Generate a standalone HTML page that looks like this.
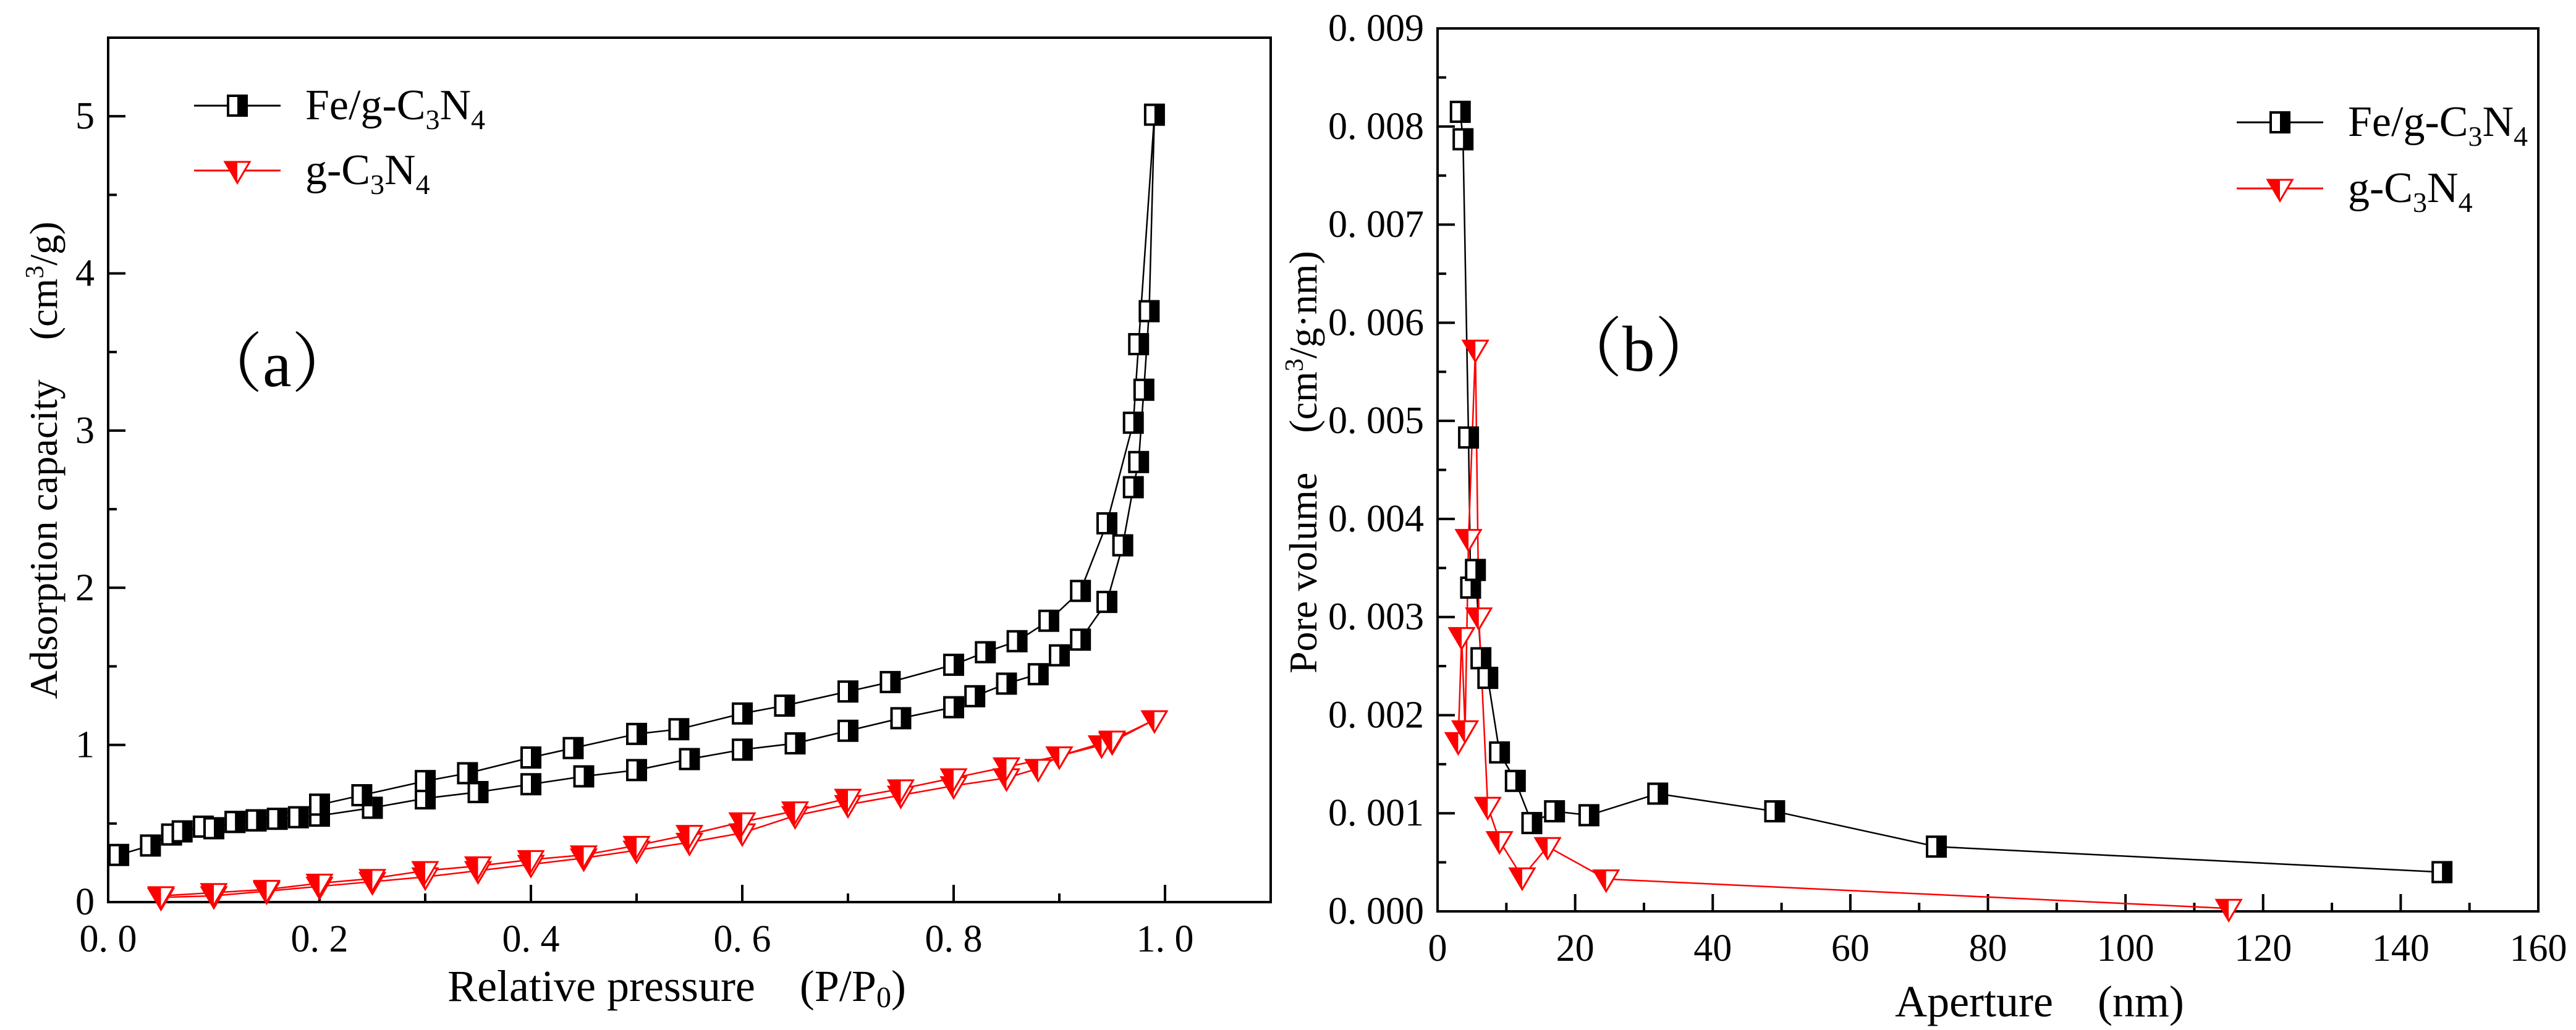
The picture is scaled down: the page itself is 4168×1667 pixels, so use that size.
<!DOCTYPE html>
<html><head><meta charset="utf-8"><style>
html,body{margin:0;padding:0;background:#fff}
svg{display:block}
text{font-family:"Liberation Serif","Noto Serif CJK SC",serif;fill:#000}
</style></head><body>
<svg id="chart" width="4168" height="1667" viewBox="0 0 4168 1667" xmlns="http://www.w3.org/2000/svg"></svg>
<script>
// Panel (a) data
const aFeX=[0.01,0.04,0.06,0.07,0.09,0.10,0.12,0.14,0.16,0.18,0.2,0.25,0.3,0.35,0.4,0.45,0.5,0.55,0.6,0.65,0.7,0.75,0.8,0.82,0.85,0.88,0.9,0.92,0.945,0.96,0.97,0.975,0.98,0.985,0.99,0.975,0.97,0.945,0.92,0.89,0.86,0.83,0.8,0.74,0.7,0.64,0.6,0.54,0.5,0.44,0.4,0.34,0.3,0.24,0.2,0.14,0.12];
const aFeY=[0.30,0.36,0.43,0.45,0.48,0.47,0.51,0.52,0.53,0.54,0.55,0.60,0.66,0.70,0.75,0.80,0.84,0.91,0.97,1.01,1.09,1.17,1.24,1.31,1.39,1.45,1.57,1.67,1.91,2.27,2.64,2.80,3.26,3.76,5.01,3.55,3.05,2.41,1.98,1.79,1.66,1.59,1.51,1.40,1.34,1.25,1.20,1.10,1.07,0.98,0.92,0.82,0.77,0.68,0.62,0.52,0.51];
const aGX=[0.05,0.1,0.15,0.2,0.25,0.3,0.35,0.4,0.45,0.5,0.55,0.6,0.65,0.7,0.75,0.8,0.85,0.88,0.9,0.94,0.95,0.99,0.95,0.90,0.85,0.8,0.75,0.7,0.65,0.6,0.55,0.5,0.45,0.4,0.35,0.3,0.25,0.2,0.15,0.1,0.05];
const aGY=[0.03,0.04,0.07,0.10,0.13,0.16,0.20,0.24,0.28,0.33,0.38,0.44,0.55,0.62,0.68,0.74,0.79,0.85,0.93,1.0,1.02,1.16,1.03,0.93,0.86,0.79,0.72,0.66,0.58,0.51,0.43,0.36,0.30,0.27,0.23,0.20,0.15,0.12,0.08,0.06,0.04];
const aXTicks=["0. 0","0. 2","0. 4","0. 6","0. 8","1. 0"];
const aYTicks=["0","1","2","3","4","5"];
// Panel (b) data
const bFeX=[3.3,3.7,4.5,4.8,5.5,6.3,7.3,9,11.3,13.7,17,22,32,49,72.5,146];
const bFeY=[0.00815,0.00787,0.00483,0.0033,0.00348,0.00258,0.00238,0.00162,0.00133,0.0009,0.00102,0.00098,0.0012,0.00102,0.00066,0.0004];
const bGX=[3,3.5,4,4.5,5.5,6,7.3,9,12.3,16,24.5,115];
const bGY=[0.00173,0.0028,0.00185,0.0038,0.00573,0.003,0.00107,0.00072,0.00035,0.00066,0.00033,0.00003];
const bXTicks=["0","20","40","60","80","100","120","140","160"];
const bYTicks=["0. 000","0. 001","0. 002","0. 003","0. 004","0. 005","0. 006","0. 007","0. 008","0. 009"];

const svg=document.getElementById('chart');
const NS='http://www.w3.org/2000/svg';
function el(tag,attrs,parent,txt){const e=document.createElementNS(NS,tag);for(const k in attrs)e.setAttribute(k,attrs[k]);if(txt!==undefined)e.textContent=txt;(parent||svg).appendChild(e);return e;}

function sq(g,x,y){
  el('rect',{x:x-15,y:y-16,width:30,height:32,fill:'#fff',stroke:'#000','stroke-width':4},g);
  el('rect',{x:x,y:y-16,width:15,height:32,fill:'#000'},g);
}
function tri(g,x,y){
  el('polygon',{points:`${x-20},${y-14} ${x+20},${y-14} ${x},${y+20}`,fill:'#fff',stroke:'#f00','stroke-width':3},g);
  el('polygon',{points:`${x-20},${y-14} ${x},${y-14} ${x},${y+20}`,fill:'#f00'},g);
}

function panel(o){
  const g=el('g',{});
  
  
  const X=v=>o.L+(v-o.x0)/(o.x1-o.x0)*(o.R-o.L);
  const Y=v=>o.B-(v-o.y0)/(o.y1-o.y0)*(o.B-o.T);
  const frame=el('rect',{x:o.L,y:o.T,width:o.R-o.L,height:o.B-o.T,fill:'none',stroke:'#000','stroke-width':4},g);
  
  
  for(let v=o.x0;v<=o.x1+1e-9;v+=o.xminor){
    const major=Math.abs(Math.round(v/o.xmajor)*o.xmajor-v)<1e-9;
    el('line',{x1:X(v),x2:X(v),y1:o.B,y2:o.B-(major?28:14),stroke:'#000','stroke-width':4},g);
  }
  o.xt.forEach((t,i)=>{const v=o.x0+i*o.xmajor;const tx=el('text',{x:X(v),y:o.B+80,'font-size':62,'text-anchor':'middle'},g,t);
    });
  for(let v=o.y0;v<=o.y1+1e-12;v+=o.yminor){
    const major=Math.abs(Math.round(v/o.ymajor)*o.ymajor-v)<1e-12;
    el('line',{x1:o.L,x2:o.L+(major?28:14),y1:Y(v),y2:Y(v),stroke:'#000','stroke-width':4},g);
  }
  o.yt.forEach((t,i)=>{const v=o.y0+i*o.ymajor;const tx=el('text',{x:o.L-22,y:Y(v)+20,'font-size':62,'text-anchor':'end'},g,t);
    });
  const p1=el('polyline',{points:o.fx.map((v,i)=>X(v)+','+Y(o.fy[i])).join(' '),fill:'none',stroke:'#000','stroke-width':2.5},g);
  
  const p2=el('polyline',{points:o.gx.map((v,i)=>X(v)+','+Y(o.gy[i])).join(' '),fill:'none',stroke:'#f00','stroke-width':2.5},g);
  
  o.gx.forEach((v,i)=>tri(g,X(v),Y(o.gy[i])));
  o.fx.forEach((v,i)=>sq(g,X(v),Y(o.fy[i])));
  const lg=el('g',{},g);
  el('line',{x1:o.lx,x2:o.lx+140,y1:o.ly,y2:o.ly,stroke:'#000','stroke-width':3},lg);sq(lg,o.lx+70,o.ly);
  el('line',{x1:o.lx,x2:o.lx+140,y1:o.ly+o.lgap,y2:o.ly+o.lgap,stroke:'#f00','stroke-width':3},lg);tri(lg,o.lx+70,o.ly+o.lgap);
  const t1=el('text',{x:o.lx+180,y:o.ly+22,'font-size':70},lg);t1.innerHTML='Fe/g-C<tspan font-size="46" dy="16">3</tspan><tspan dy="-16">N</tspan><tspan font-size="46" dy="16">4</tspan>';
  
  const t2=el('text',{x:o.lx+180,y:o.ly+o.lgap+22,'font-size':70},lg);t2.innerHTML='g-C<tspan font-size="46" dy="16">3</tspan><tspan dy="-16">N</tspan><tspan font-size="46" dy="16">4</tspan>';
  
  const lab=el('text',{x:o.px,y:o.py,'font-size':105},g,o.plabel);
  const xt=el('text',{x:o.xtx,y:o.xty,'font-size':72,'text-anchor':'middle'},g);xt.innerHTML=o.xtitle;
  
  const yt=el('text',{x:0,y:0,'font-size':64,'text-anchor':'middle',transform:`translate(${o.ytx},${o.yty}) rotate(-90)`},g);yt.innerHTML=o.ytitle;
  
}

panel({name:'panel-a',L:175,R:2056,T:61,B:1460,x0:0,x1:1.1,y0:0,y1:5.5,xmajor:0.2,xminor:0.1,ymajor:1,yminor:0.5,
  xt:aXTicks,yt:aYTicks,fx:aFeX,fy:aFeY,gx:aGX,gy:aGY,lx:314,ly:171,lgap:105,
  plabel:'（a）',px:320,py:625,xtitle:'Relative pressure　(P/P<tspan font-size="48" dy="10">0</tspan><tspan dy="-10">)</tspan>',xtx:1095,xty:1620,
  ytitle:'Adsorption capacity　(cm<tspan font-size="42" dy="-22">3</tspan><tspan dy="22">/g)</tspan>',ytx:92,yty:745});
panel({name:'panel-b',L:2326,R:4107,T:46,B:1475,x0:0,x1:160,y0:0,y1:0.009,xmajor:20,xminor:10,ymajor:0.001,yminor:0.0005,
  xt:bXTicks,yt:bYTicks,fx:bFeX,fy:bFeY,gx:bGX,gy:bGY,lx:3619,ly:198,lgap:107,
  plabel:'（b）',px:2520,py:600,xtitle:'Aperture　(nm)',xtx:3300,xty:1645,
  ytitle:'Pore volume　(cm<tspan font-size="42" dy="-22">3</tspan><tspan dy="22">/g·nm)</tspan>',ytx:2130,yty:748});
</script>
</body></html>
